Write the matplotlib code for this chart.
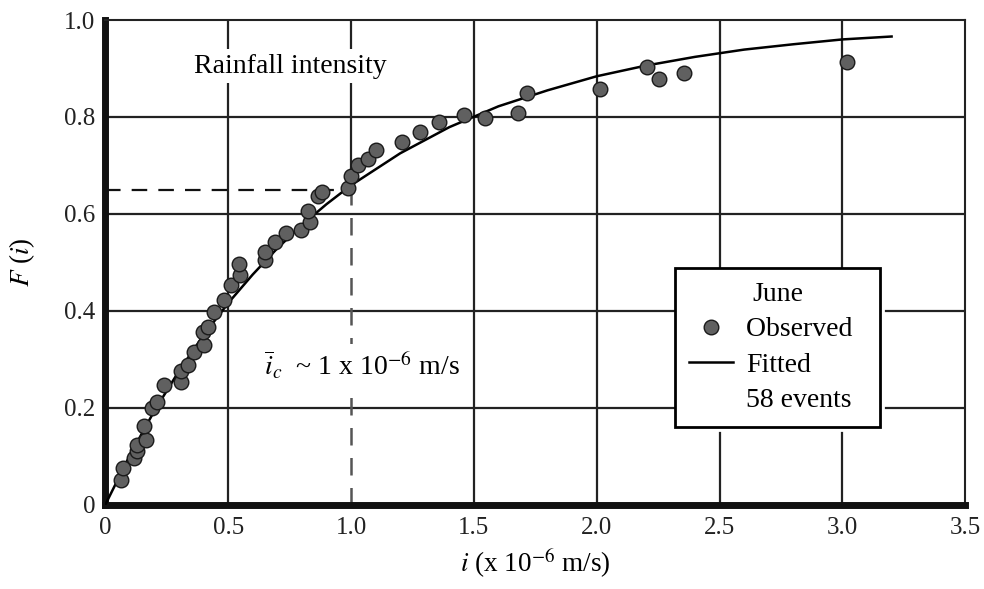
import numpy as np
import matplotlib.pyplot as plt
from matplotlib.lines import Line2D

plt.rcParams['font.family'] = ['Liberation Serif', 'DejaVu Serif']
plt.rcParams['mathtext.fontset'] = 'stix'

# observed events (i in 1e-6 m/s, F(i))
obs_i = [0.062, 0.074, 0.117, 0.131, 0.131, 0.165, 0.158, 0.192, 0.212, 0.240,
         0.308, 0.308, 0.335, 0.362, 0.403, 0.396, 0.417, 0.444, 0.482, 0.512,
         0.550, 0.546, 0.648, 0.648, 0.689, 0.737, 0.798, 0.832, 0.825, 0.866,
         0.880, 0.986, 1.002, 1.029, 1.070, 1.102, 1.206, 1.281, 1.359, 1.461,
         1.547, 1.679, 1.717, 2.013, 2.203, 2.255, 2.356, 3.017]
obs_F = [0.052, 0.076, 0.097, 0.111, 0.124, 0.134, 0.162, 0.199, 0.213, 0.247,
         0.254, 0.275, 0.288, 0.316, 0.329, 0.357, 0.367, 0.398, 0.422, 0.453,
         0.473, 0.497, 0.504, 0.521, 0.542, 0.561, 0.566, 0.583, 0.607, 0.638,
         0.645, 0.653, 0.678, 0.700, 0.713, 0.732, 0.748, 0.768, 0.789, 0.804,
         0.798, 0.809, 0.850, 0.857, 0.903, 0.879, 0.891, 0.914]

# fitted curve
fit_i = [0, 0.1, 0.2, 0.3, 0.4, 0.5, 0.6, 0.7, 0.8, 0.9, 1.0, 1.2, 1.4, 1.6,
         1.8, 2.0, 2.2, 2.4, 2.6, 2.8, 3.0, 3.2]
fit_F = [0, 0.102, 0.194, 0.276, 0.350, 0.416, 0.475, 0.529, 0.577, 0.620,
         0.659, 0.725, 0.779, 0.822, 0.855, 0.884, 0.906, 0.924, 0.939, 0.950,
         0.960, 0.966]

grid_x = [0.5, 1.5, 2.0, 2.5, 3.0]
grid_y = [0.2, 0.4, 0.6, 0.8]
xticks = [0, 0.5, 1.0, 1.5, 2.0, 2.5, 3.0, 3.5]
xtick_labels = ['0', '0.5', '1.0', '1.5', '2.0', '2.5', '3.0', '3.5']
yticks = [0, 0.2, 0.4, 0.6, 0.8, 1.0]
ytick_labels = ['0', '0.2', '0.4', '0.6', '0.8', '1.0']
ic = 1.0
F_ic = 0.65

fig = plt.figure(figsize=(9.84, 5.89), dpi=100)
ax = fig.add_axes([0.107, 0.143, 0.874, 0.823])
ax.set_xlim(0, 3.5)
ax.set_ylim(0, 1.0)

for gx in grid_x:
    ax.axvline(gx, color='#222222', lw=1.6, zorder=1)
for gy in grid_y:
    ax.axhline(gy, color='#222222', lw=1.6, zorder=1)
ax.axvline(ic, ymin=F_ic, ymax=1.0, color='#222222', lw=1.6, zorder=1)

# dashed guides at i_c
ax.plot([0, ic], [F_ic, F_ic], color='#111111', lw=1.6, dashes=[7, 5], zorder=2)
ax.plot([ic, ic], [0, F_ic], color='#555555', lw=1.8, dashes=[7, 5], zorder=2)

ax.plot(fit_i, fit_F, color='black', lw=1.8, zorder=3)
ax.plot(obs_i, obs_F, 'o', ms=10.5, mfc='#606060', mec='#1a1a1a', mew=1.0,
        zorder=4, clip_on=False)

ax.text(0.754, 0.905, 'Rainfall intensity', fontsize=20, ha='center', va='center',
        bbox=dict(facecolor='white', edgecolor='none', pad=3), zorder=5)
ax.text(1.043, 0.287, r'$\overline{i}_c$  ~ 1 x 10$^{-6}$ m/s', fontsize=20,
        ha='center', va='center',
        bbox=dict(facecolor='white', edgecolor='none', pad=4), zorder=5)

ax.set_xticks(xticks)
ax.set_xticklabels(xtick_labels)
ax.set_yticks(yticks)
ax.set_yticklabels(ytick_labels)
ax.tick_params(length=0, labelsize=18, colors='#222222')
ax.tick_params(axis='x', pad=9)
ax.tick_params(axis='y', pad=7)

for side in ['left', 'bottom']:
    ax.spines[side].set_linewidth(5)
    ax.spines[side].set_color('#111111')
for side in ['top', 'right']:
    ax.spines[side].set_linewidth(1.5)
    ax.spines[side].set_color('#222222')

ax.set_xlabel(r'$i$ (x 10$^{-6}$ m/s)', fontsize=19.5, labelpad=5)
ax.set_ylabel(r'$F$ ($i$)', fontsize=19.5, labelpad=20)

handles = [Line2D([], [], ls='none', marker='o', ms=10.5, mfc='#606060', mec='#1a1a1a'),
           Line2D([], [], color='black', lw=1.8),
           Line2D([], [], ls='none')]
leg = ax.legend(handles, ['Observed  ', 'Fitted', '58 events'], title='June',
                loc='upper left', bbox_to_anchor=(0.686, 0.545),
                bbox_transform=fig.transFigure, fontsize=20, title_fontsize=20,
                frameon=True, fancybox=False, shadow={'shade': 0, 'alpha': 1},
                borderaxespad=0, borderpad=0.5, labelspacing=0.36,
                handlelength=1.6, handletextpad=0.45)
leg.get_frame().set_edgecolor('black')
leg.get_frame().set_linewidth(2)
leg.get_frame().set_alpha(1)
leg.set_zorder(6)

fig.savefig('out.png', dpi=100)
